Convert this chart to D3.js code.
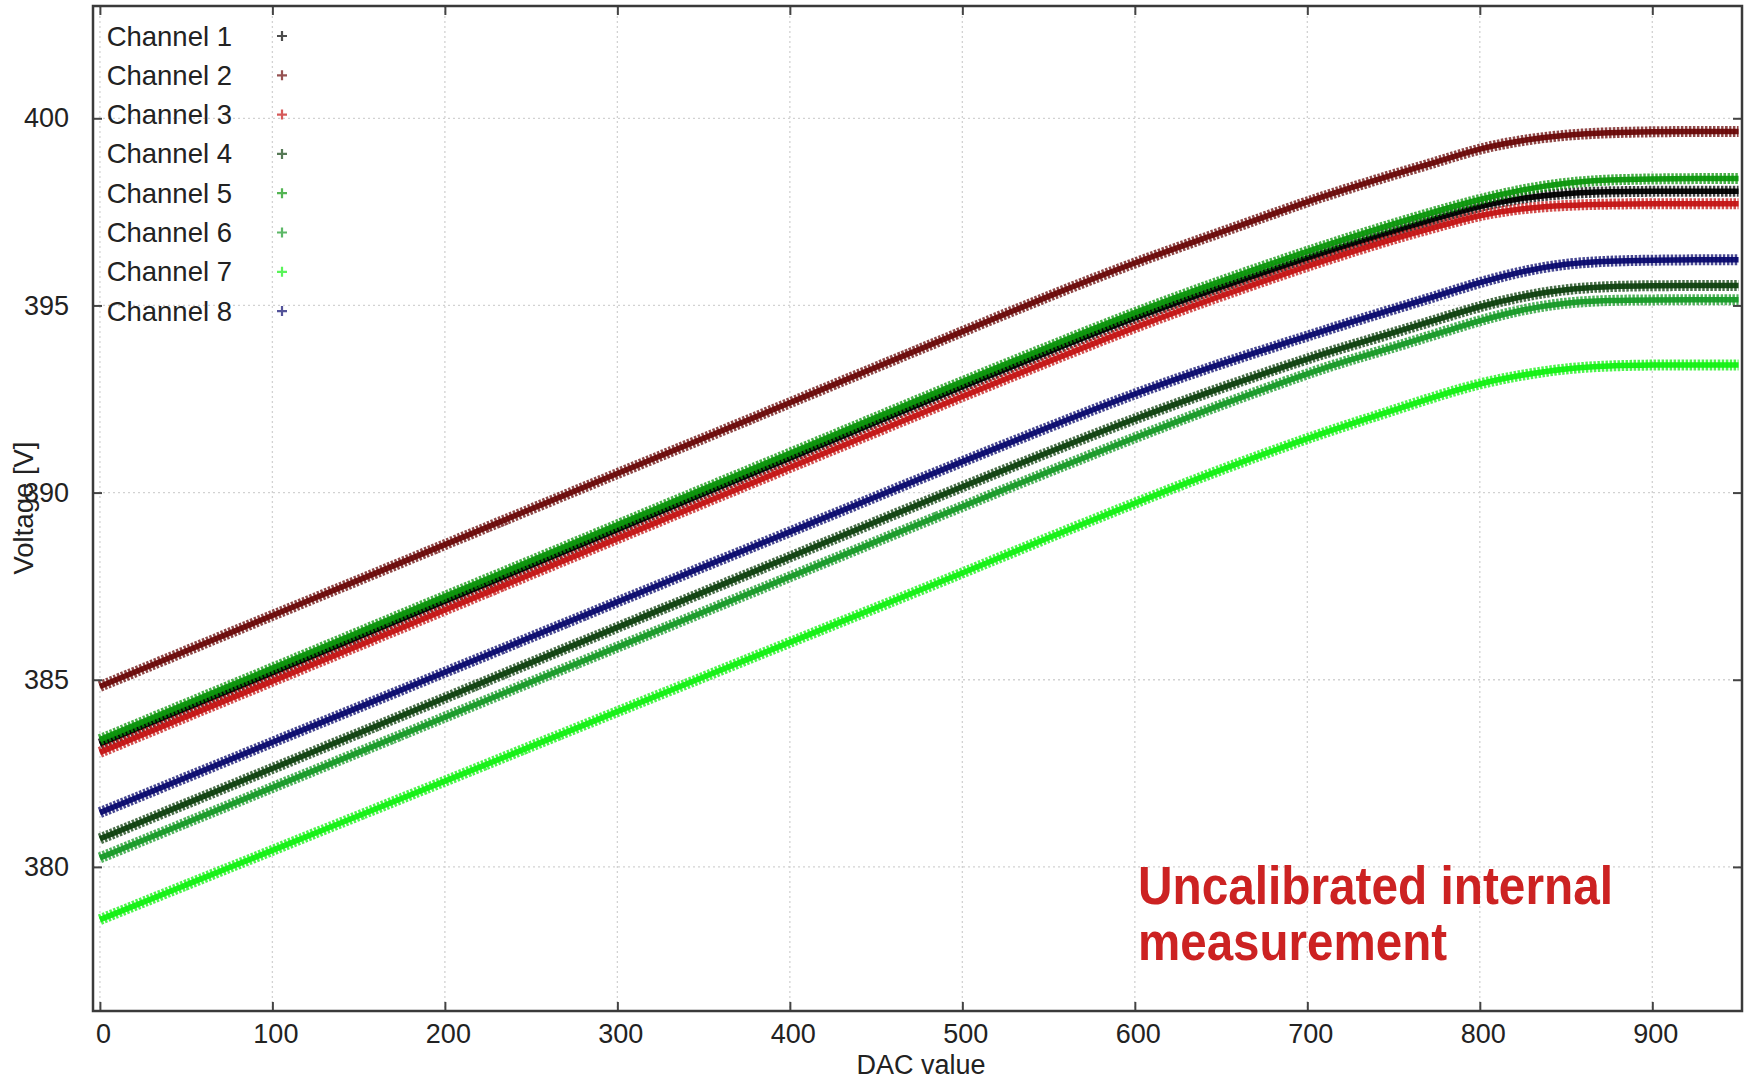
<!DOCTYPE html>
<html>
<head>
<meta charset="utf-8">
<script src="https://cdn.jsdelivr.net/npm/d3@7"></script>
<style>
    body { margin: 0; background: #fff; }
    text { font-family: "Liberation Sans", Arial, sans-serif; fill: #222; }
</style>
</head>
<body>
<svg id="chart"></svg>
<script>

// Section for Data

var dac = [0, 50, 100, 150, 200, 250, 300, 350, 400, 450, 500, 550, 600, 650, 700,
    725, 750, 775, 800, 825, 850, 875, 900, 925, 950];

var channelNames = ["Channel 1", "Channel 2", "Channel 3", "Channel 4",
    "Channel 5", "Channel 6", "Channel 7", "Channel 8"];

var ch1 = [383.28, 384.23, 385.18, 386.14, 387.10, 388.05, 389.01, 389.97, 390.92, 391.88, 392.83, 393.76, 394.68, 395.50, 396.27,
    396.63, 396.98, 397.33, 397.66, 397.88, 398.00, 398.04, 398.05, 398.05, 398.05];
var ch2 = [384.82, 385.77, 386.72, 387.66, 388.61, 389.56, 390.51, 391.45, 392.40, 393.35, 394.30, 395.25, 396.15, 396.95, 397.78,
    398.14, 398.50, 398.83, 399.20, 399.42, 399.56, 399.62, 399.64, 399.65, 399.65];
var ch3 = [383.06, 384.01, 384.96, 385.91, 386.86, 387.82, 388.77, 389.72, 390.67, 391.62, 392.57, 393.50, 394.42, 395.26, 396.05,
    396.42, 396.78, 397.10, 397.42, 397.60, 397.68, 397.71, 397.72, 397.72, 397.72];
var ch4 = [380.75, 381.69, 382.63, 383.57, 384.51, 385.46, 386.40, 387.34, 388.28, 389.22, 390.16, 391.08, 391.98, 392.80, 393.58,
    393.93, 394.27, 394.62, 394.98, 395.25, 395.44, 395.51, 395.53, 395.53, 395.53];
var ch5 = [383.40, 384.36, 385.31, 386.27, 387.23, 388.18, 389.14, 390.10, 391.05, 392.01, 392.97, 393.90, 394.82, 395.66, 396.45,
    396.82, 397.18, 397.52, 397.84, 398.10, 398.28, 398.36, 398.38, 398.39, 398.39];
var ch6 = [380.24, 381.18, 382.12, 383.06, 384.00, 384.94, 385.87, 386.81, 387.75, 388.69, 389.63, 390.56, 391.47, 392.35, 393.18,
    393.55, 393.88, 394.24, 394.60, 394.90, 395.08, 395.14, 395.15, 395.15, 395.15];
var ch7 = [378.59, 379.52, 380.44, 381.37, 382.29, 383.22, 384.15, 385.07, 386.00, 386.92, 387.85, 388.80, 389.72, 390.62, 391.45,
    391.83, 392.20, 392.58, 392.92, 393.15, 393.32, 393.39, 393.41, 393.41, 393.41];
var ch8 = [381.45, 382.39, 383.33, 384.26, 385.20, 386.14, 387.08, 388.02, 388.95, 389.89, 390.83, 391.75, 392.65, 393.45, 394.18,
    394.55, 394.90, 395.25, 395.62, 395.92, 396.12, 396.19, 396.21, 396.22, 396.22];

var xTicks = [0, 100, 200, 300, 400, 500, 600, 700, 800, 900];
var yTicks = [380, 385, 390, 395, 400];

var channels = [ch1, ch2, ch3, ch4, ch5, ch6, ch7, ch8];
var colors = ["#000000", "#6a0808", "#c41414", "#0e400e", "#0c960c", "#179a27", "#12f012", "#0a0a6e"];

// Section for dimensions

var width = 1750;
var height = 1079;
var margin = { top: 6, right: 8, bottom: 68, left: 93 };
var plotWidth = width - margin.left - margin.right;
var plotHeight = height - margin.top - margin.bottom;

var x = d3.scaleLinear()
    .domain([-4, 952])
    .range([0, plotWidth]);

var y = d3.scaleLinear()
    .domain([376.15, 403.0])
    .range([plotHeight, 0]);

var svg = d3.select("#chart")
    .attr("width", width)
    .attr("height", height)
    .style("display", "block");

var g = svg.append("g")
    .attr("transform", "translate(" + margin.left + "," + margin.top + ")");

// Grid lines (dotted)

g.append("g")
    .selectAll("line")
    .data(xTicks)
    .enter().append("line")
    .attr("x1", function (d) { return x(d); })
    .attr("x2", function (d) { return x(d); })
    .attr("y1", 0)
    .attr("y2", plotHeight)
    .attr("stroke", "#d2d2d2")
    .attr("stroke-width", 1.3)
    .attr("stroke-dasharray", "2,3");

g.append("g")
    .selectAll("line")
    .data(yTicks)
    .enter().append("line")
    .attr("x1", 0)
    .attr("x2", plotWidth)
    .attr("y1", function (d) { return y(d); })
    .attr("y2", function (d) { return y(d); })
    .attr("stroke", "#d2d2d2")
    .attr("stroke-width", 1.3)
    .attr("stroke-dasharray", "2,3");

// Section for the channel bands

var line = d3.line()
    .x(function (d, i) { return x(dac[i]); })
    .y(function (d) { return y(d); })
    .curve(d3.curveBasis);

var bands = g.append("g")
    .selectAll("g")
    .data(channels)
    .enter().append("g");

// dashed wide stroke mimics the vertical bars of the "+" markers
bands.append("path")
    .attr("d", function (d) { return line(d); })
    .attr("fill", "none")
    .attr("stroke", function (d, i) { return colors[i]; })
    .attr("stroke-width", 11)
    .attr("stroke-dasharray", "2.5,1.5")
    .attr("stroke-opacity", 0.75);

bands.append("path")
    .attr("d", function (d) { return line(d); })
    .attr("fill", "none")
    .attr("stroke", function (d, i) { return colors[i]; })
    .attr("stroke-width", 5.5)
    .attr("stroke-opacity", 0.95);

// Section to create axis

var tickLen = 9;

var xAxisBottom = g.append("g")
    .attr("transform", "translate(0," + plotHeight + ")")
    .call(d3.axisBottom(x).tickValues(xTicks).tickSizeInner(-tickLen).tickSizeOuter(0).tickPadding(tickLen + 4));

var xAxisTop = g.append("g")
    .call(d3.axisTop(x).tickValues(xTicks).tickSizeInner(-tickLen).tickSizeOuter(0).tickFormat(""));

var yAxisLeft = g.append("g")
    .call(d3.axisLeft(y).tickValues(yTicks).tickSizeInner(-tickLen).tickSizeOuter(0).tickPadding(tickLen + 15));

var yAxisRight = g.append("g")
    .attr("transform", "translate(" + plotWidth + ",0)")
    .call(d3.axisRight(y).tickValues(yTicks).tickSizeInner(-tickLen).tickSizeOuter(0).tickFormat(""));

g.selectAll(".domain").remove();
g.selectAll(".tick line").attr("stroke", "#444").attr("stroke-width", 2);
g.selectAll(".tick text")
    .style("font-family", "'Liberation Sans', Arial, sans-serif")
    .style("font-size", "27px")
    .attr("fill", "#222");
xAxisBottom.selectAll(".tick text").attr("dx", 3);

// frame
g.append("rect")
    .attr("x", 0)
    .attr("y", 0)
    .attr("width", plotWidth)
    .attr("height", plotHeight)
    .attr("fill", "none")
    .attr("stroke", "#3a3a3a")
    .attr("stroke-width", 2.5);

// Axis titles

svg.append("text")
    .attr("x", margin.left + x(476))
    .attr("y", 1074)
    .attr("text-anchor", "middle")
    .style("font-size", "27px")
    .text("DAC value");

svg.append("text")
    .attr("transform", "translate(33,508) rotate(-90)")
    .attr("text-anchor", "middle")
    .style("font-size", "27.5px")
    .text("Voltage [V]");

// Section for the legend

var legend = svg.append("g")
    .selectAll("g")
    .data(channelNames)
    .enter().append("g")
    .attr("transform", function (d, i) { return "translate(0," + (36 + i * 39.3) + ")"; });

legend.append("text")
    .attr("x", 232)
    .attr("y", 9.5)
    .attr("text-anchor", "end")
    .style("font-size", "27.5px")
    .text(function (d) { return d; });

legend.append("path")
    .attr("d", "M277,0H287M282,-5V5")
    .attr("stroke", function (d, i) { return colors[i]; })
    .attr("stroke-opacity", 0.7)
    .attr("stroke-width", 2.2);

// Annotation

var note = svg.append("text")
    .style("font-family", "'Liberation Sans Narrow', 'Liberation Sans', Arial, sans-serif")
    .style("font-weight", "bold")
    .style("font-size", "54px")
    .style("fill", "#cc2222");

note.append("tspan")
    .attr("x", 1138)
    .attr("y", 904)
    .attr("textLength", 475)
    .attr("lengthAdjust", "spacingAndGlyphs")
    .text("Uncalibrated internal");

note.append("tspan")
    .attr("x", 1138)
    .attr("y", 960)
    .attr("textLength", 309)
    .attr("lengthAdjust", "spacingAndGlyphs")
    .text("measurement");

</script>
</body>
</html>
